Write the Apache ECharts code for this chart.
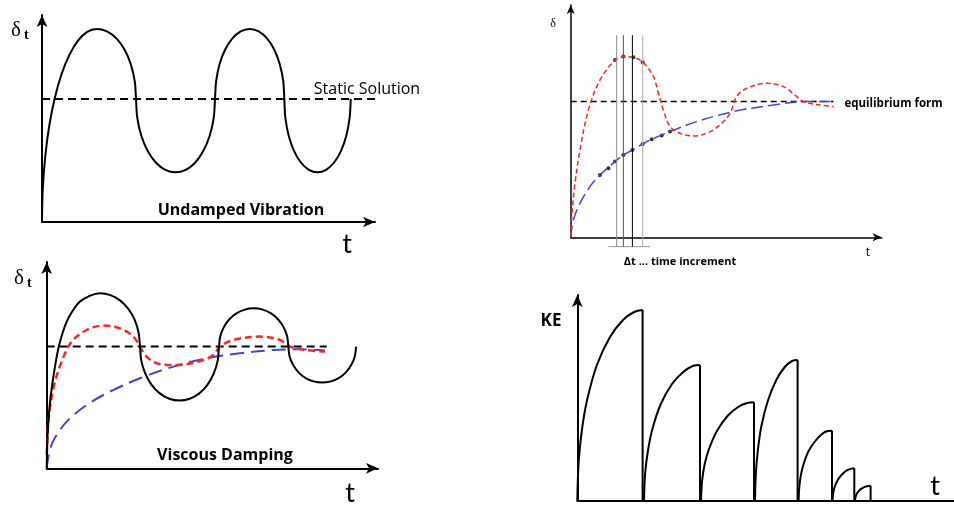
<!DOCTYPE html>
<html>
<head>
<meta charset="utf-8">
<script src="https://cdn.jsdelivr.net/npm/echarts@6/dist/echarts.min.js"></script>
<style>
  html, body { margin: 0; padding: 0; background: #fff; }
  #chart { width: 954px; height: 505px; }
</style>
</head>
<body>
<div id="chart"></div>
<script>

// panel 1 - undamped vibration
var undampedCurve = [
  [0, 0], [0.8, 33.5], [3.3, 66], [7.3, 96.5], [12.8, 124], [19.5, 147.8], [27.4, 167.1], [36, 181.4], [45.2, 190.1], [54.7, 193],
  [64.9, 190.6], [74.4, 183.6], [82.5, 172.5], [88.7, 158], [92.7, 141.1], [94, 123],
  [95.3, 104], [99.3, 86.3], [105.6, 71.2], [113.8, 59.5], [123.3, 52.2], [133.5, 49.7], [143.7, 52.2], [153.3, 59.5], [161.4, 71.2], [167.7, 86.3], [171.7, 104], [173, 123],
  [174.2, 141.1], [177.6, 158], [183.2, 172.5], [190.4, 183.6], [198.7, 190.6], [207.7, 193], [216.7, 190.6], [225, 183.6], [232.2, 172.5], [237.7, 158], [241.2, 141.1], [242.3, 123],
  [243.4, 104], [246.7, 86.3], [252, 71.2], [258.9, 59.5], [266.9, 52.2], [275.5, 49.7], [284.1, 52.2], [292.1, 59.5], [299, 71.2], [304.3, 86.3], [307.6, 104], [308.7, 123]
];
var staticLine1 = [[0, 123], [381, 123]];

// panel 2 - viscous damping
var dampedCurve = [
  [0, 0], [0.6, 25], [1.7, 46.7], [3.2, 65], [5, 80], [8, 100], [11.7, 120], [15.5, 134], [20, 146.7], [26, 157.5], [33.3, 166.7], [43, 172.5], [53.3, 175],
  [63.7, 173.2], [73.3, 167.9], [81.6, 159.4], [88, 148.4], [91.9, 135.5], [93.3, 121.7],
  [94.6, 107.7], [98.6, 94.7], [104.9, 83.5], [113.1, 74.9], [122.6, 69.5], [132.8, 67.7], [143, 69.5], [152.6, 74.9], [160.7, 83.5], [167, 94.7], [171, 107.7], [172.3, 121.7],
  [173.5, 131.6], [177, 140.9], [182.5, 148.8], [189.7, 154.9], [198, 158.7], [207, 160], [216, 158.7], [224.4, 154.9], [231.5, 148.8], [237, 140.9], [240.5, 131.6], [241.7, 121.7],
  [242.8, 112.4], [246.2, 103.7], [251.6, 96.2], [258.6, 90.5], [266.8, 86.9], [275.5, 85.7], [284.2, 86.9], [292.4, 90.5], [299.4, 96.2], [304.8, 103.7], [308.2, 112.4], [309.3, 121.7]
];
var dampedRed = [
  [0, 13.3], [1.7, 46.7], [6.7, 80], [15, 106.7], [25, 126.7], [40, 138.3], [56.7, 142.7], [73.3, 140], [86.7, 131.7],
  [93.3, 121.7], [98.3, 113.3], [110, 105], [130, 103.3], [153.3, 107.3], [166.7, 113.3], [173.3, 121.7],
  [186.7, 128.3], [213.3, 131.7], [233.3, 128.3], [243.3, 121.7], [260, 118.3], [278.3, 116.7]
];
var dampedBlue = [
  [0, 0], [3, 18], [8, 30], [20, 46.7], [40, 63.3], [63.3, 76.7], [93.3, 90], [126.7, 101.7], [160, 110],
  [193.3, 115], [226.7, 118.3], [253.3, 119], [278.3, 117.7]
];
var staticLine2 = [[0, 121.7], [280, 121.7]];

// panel 3 - time increments
var dynRed = [
  [0, 0], [1, 20.7], [4.3, 54], [9.3, 87.3], [17.7, 127.3], [29.3, 157.3], [44.3, 176.7], [55.3, 180.7], [62.7, 180],
  [72.7, 174.7], [82.7, 160.7], [87.7, 144], [92.7, 127.3], [99.3, 110.7], [109.3, 104], [122.7, 101.3], [136, 104],
  [149.3, 112.3], [159.3, 124], [166, 140.7], [176, 149], [196, 154], [212.7, 150.7], [224.3, 142.3], [232.7, 135.7],
  [249.3, 132.3], [262.7, 130.7]
];
var dynBlue = [
  [0, 0], [2.7, 17.3], [9.3, 34], [19.3, 50.7], [29.3, 62.3], [44.3, 75.7], [52.7, 82.3], [61.7, 87.3], [72, 93.3],
  [81, 98], [99.3, 105.7], [126, 115.7], [162.7, 125.7], [202.7, 132.3], [236, 135.7], [259.3, 135.7]
];
var blueDots = [[29.3, 62.3], [37.7, 69], [44.3, 75.7], [52.7, 82.3], [61.7, 87.3], [72, 93.3], [81, 98], [91, 101.7], [99.3, 105.7]];
var redDots = [[44.3, 177.3], [52.7, 180.7], [62.7, 180], [72, 175]];
var equilibriumLine = [[0, 135.7], [262.7, 135.7]];
var incrementX = [46, 52.7, 61.7, 72];
var incrementSpan = [-9.3, 202];
var incrementBase = [[37.7, -9.3], [79.3, -9.3]];

// panel 4 - kinetic energy peaks
var keArcs = [
  [[0, 0], [1.3, 38], [4.6, 71], [9.8, 101], [19.6, 136], [32.7, 164], [45.7, 181], [56.8, 189], [65.3, 191]],
  [[66.7, 0], [67.8, 27], [70.6, 50], [75.1, 72], [83.5, 97], [94.7, 117], [105.9, 129], [115.4, 135], [122.7, 136]],
  [[123.7, 0], [124.8, 20], [127.4, 37], [131.7, 52], [139.6, 70], [150.2, 85], [160.8, 94], [169.8, 98], [176.7, 98.7]],
  [[177.7, 0], [178.6, 28], [180.7, 52], [184.1, 75], [190.5, 100], [199, 121], [207.5, 134], [214.8, 140], [220.3, 141]],
  [[221.3, 0], [222, 14], [223.6, 26], [226.3, 37], [231.3, 50], [238, 60], [244.7, 67], [250.4, 70], [254.7, 70.3]],
  [[255.3, 0], [255.7, 6.5], [256.8, 12], [258.6, 17.3], [261.8, 23.2], [266.2, 28.1], [270.5, 31.1], [274.2, 32.4], [277, 32.7]],
  [[277.7, 0], [278, 3], [278.8, 5.7], [280, 8.1], [282.4, 10.9], [285.5, 13.2], [288.6, 14.5], [291.3, 15.1], [293.3, 15.3]]
];

var RED = "#ff2424";
var BLUE = "#4343d6";
var FONT = "'Open Sans', Lato, sans-serif";

// build helpers
function joinParts(parts) {
  var out = [];
  parts.forEach(function(p, i) {
    if (i > 0) out.push([p[0][0], "-"]);
    out = out.concat(p);
  });
  return out;
}
var keDrops = keArcs.map(function(a) {
  var last = a[a.length - 1];
  return [[last[0], last[1]], [last[0], 0]];
});
var incrementLines = incrementX.map(function(x) {
  return [[x, incrementSpan[0]], [x, incrementSpan[1]]];
});

var grids = [
  { left: 42, top: 15, width: 333, height: 207 },
  { left: 46.7, top: 262, width: 331.3, height: 206.3 },
  { left: 570.7, top: 5, width: 311, height: 232.3 },
  { left: 577.3, top: 295, width: 376.7, height: 206 }
];
var axisW = [2, 2, 1.5, 2];

var xAxes = grids.map(function(g, i) {
  return {
    type: "value", gridIndex: i, min: 0, max: g.width,
    axisLine: { show: true, symbol: i === 3 ? "none" : ["none", "arrow"], symbolSize: i === 2 ? [6, 9] : [8, 12],
      lineStyle: { color: "#000", width: axisW[i] } },
    axisTick: { show: false }, axisLabel: { show: false }, splitLine: { show: false }
  };
});
var yAxes = grids.map(function(g, i) {
  return {
    type: "value", gridIndex: i, min: 0, max: g.height,
    axisLine: { show: true, symbol: ["none", "arrow"], symbolSize: i === 2 ? [6, 9] : [8, 12],
      lineStyle: { color: "#000", width: axisW[i] } },
    axisTick: { show: false }, axisLabel: { show: false }, splitLine: { show: false }
  };
});

function line(idx, data, color, width, type, smooth) {
  return {
    type: "line", xAxisIndex: idx, yAxisIndex: idx, data: data, showSymbol: false, symbol: "none",
    smooth: smooth ? 0.35 : false, clip: false, silent: true,
    lineStyle: { color: color, width: width, type: type }
  };
}

var series = [
  line(0, staticLine1, "#000", 2, [8, 5], false),
  line(0, undampedCurve, "#000", 2, "solid", true),

  line(1, staticLine2, "#000", 2, [8, 5], false),
  line(1, dampedBlue, BLUE, 2, [14, 7], true),
  line(1, dampedRed, RED, 2.5, [7, 4], true),
  line(1, dampedCurve, "#000", 2, "solid", true),

  line(2, equilibriumLine, "#000", 1.5, [6, 4], false),
  line(2, dynBlue, BLUE, 1.5, [12, 5], true),
  line(2, dynRed, RED, 1.5, [5, 3], true),
  line(2, incrementBase, "#999", 1, "solid", false)
];
var incColors = ["#8a8a8a", "#555", "#000", "#aaa"];
incrementLines.forEach(function(d, i) {
  series.push(line(2, d, incColors[i], 1, "solid", false));
});
series.push({ type: "scatter", xAxisIndex: 2, yAxisIndex: 2, data: blueDots.concat(redDots),
  symbolSize: 4, itemStyle: { color: "#000" }, silent: true, clip: false });

series.push(line(3, joinParts(keArcs), "#000", 2, "solid", true));
series.push(line(3, joinParts(keDrops), "#000", 2, "solid", false));

function txt(x, y, text, size, weight, align, family) {
  return {
    type: "text", x: x, y: y, silent: true,
    style: { text: text, fill: "#000", font: (weight || "normal") + " " + size + "px " + (family || FONT),
      textAlign: align || "left", align: align || "left", textVerticalAlign: "middle", verticalAlign: "middle" }
  };
}

var graphics = [
  txt(11, 30, "δ", 21, "normal", "left", "'Liberation Serif', serif"),
  txt(24, 35, "t", 14, "bold", "left", "'Liberation Serif', serif"),
  txt(367, 89, "Static Solution", 16, "normal", "center"),
  txt(241, 210, "Undamped Vibration", 16, "bold", "center"),
  txt(347, 244, "t", 27, "normal", "center", "Lato, sans-serif"),

  txt(14, 278, "δ", 21, "normal", "left", "'Liberation Serif', serif"),
  txt(27, 283, "t", 14, "bold", "left", "'Liberation Serif', serif"),
  txt(225, 455, "Viscous Damping", 16, "bold", "center"),
  txt(350, 493, "t", 27, "normal", "center", "Lato, sans-serif"),

  txt(553, 24, "δ", 12, "normal", "center", "'Liberation Serif', serif"),
  txt(868, 253, "t", 12, "normal", "center"),
  txt(893.5, 104, "equilibrium form", 11.5, "bold", "center"),
  txt(680, 262, "Δt ... time increment", 11, "bold", "center"),

  txt(551, 321, "KE", 17, "bold", "center"),
  txt(935, 486, "t", 27, "normal", "center", "Lato, sans-serif")
];

var myChart = echarts.init(document.getElementById("chart"));
var option = {
  animation: false,
  backgroundColor: "#fff",
  grid: grids,
  xAxis: xAxes,
  yAxis: yAxes,
  series: series,
  graphic: graphics
};
myChart.setOption(option);
</script>
</body>
</html>
